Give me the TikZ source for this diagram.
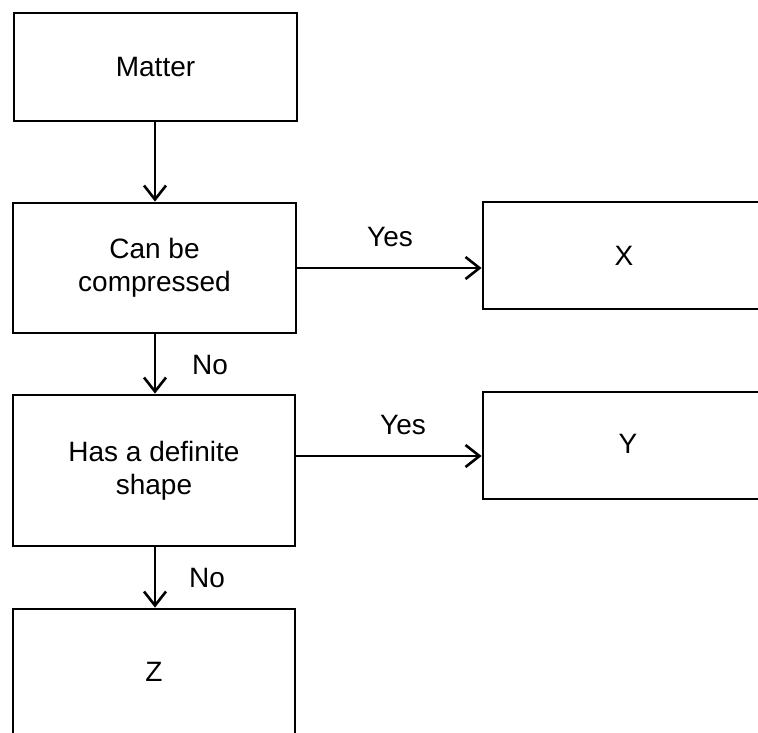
\documentclass[tikz,border=0pt]{standalone}
\usepackage{fontspec}
\setmainfont{Liberation Sans}
\usetikzlibrary{arrows.meta}
\begin{document}
\begin{tikzpicture}[x=1pt,y=-1pt,
  every node/.style={font=\fontsize{28}{33}\selectfont},
  box/.style={draw, line width=2.8pt, inner sep=0pt, align=center},
  flow/.style={line width=2.6pt, -{Straight Barb[length=14pt,width=22pt,line width=2.6pt]}},
  tag/.style={inner sep=0pt}]
  \useasboundingbox (0,0) rectangle (758,732);
  \clip (0,0) rectangle (758,732);
  \fill[white] (0,0) rectangle (758,732);

  % decision chain on the left
  \node[box, minimum width=283pt, minimum height=108pt] (matter) at (155.5,67) {Matter};
  \node[box, minimum width=283pt, minimum height=130pt] (comp) at (154.5,268) {Can be\\compressed};
  \node[box, minimum width=282pt, minimum height=151pt] (shape) at (154,470.5) {Has a definite\\shape};
  \node[box, minimum width=282pt, minimum height=126pt] (z) at (154,672) {Z};

  % outcome boxes on the right, running off the edge
  \node[box, minimum width=307pt, minimum height=107pt] (x) at (636.5,255.5) {};
  \node[tag] (xl) at (624,256) {X};
  \node[box, minimum width=307pt, minimum height=107pt] (y) at (636.5,445.5) {};
  \node[tag] (yl) at (628,444) {Y};

  % connectors
  \draw[flow] (matter.south -| 155,0) -- (comp.north -| 155,0);
  \draw[flow] (comp.south -| 155,0) -- (shape.north -| 155,0);
  \draw[flow] (shape.south -| 155,0) -- (z.north -| 155,0);
  \draw[flow] (comp.east) -- (comp.east -| x.west);
  \draw[flow] ([yshift=14.5pt]shape.east) -- ([yshift=14.5pt]shape.east -| y.west);

  % branch labels
  \node[tag] (yes1) at (390,237) {Yes};
  \node[tag] (yes2) at (403,425) {Yes};
  \node[tag] (no1) at (210,365) {No};
  \node[tag] (no2) at (207,578) {No};
\end{tikzpicture}
\end{document}
